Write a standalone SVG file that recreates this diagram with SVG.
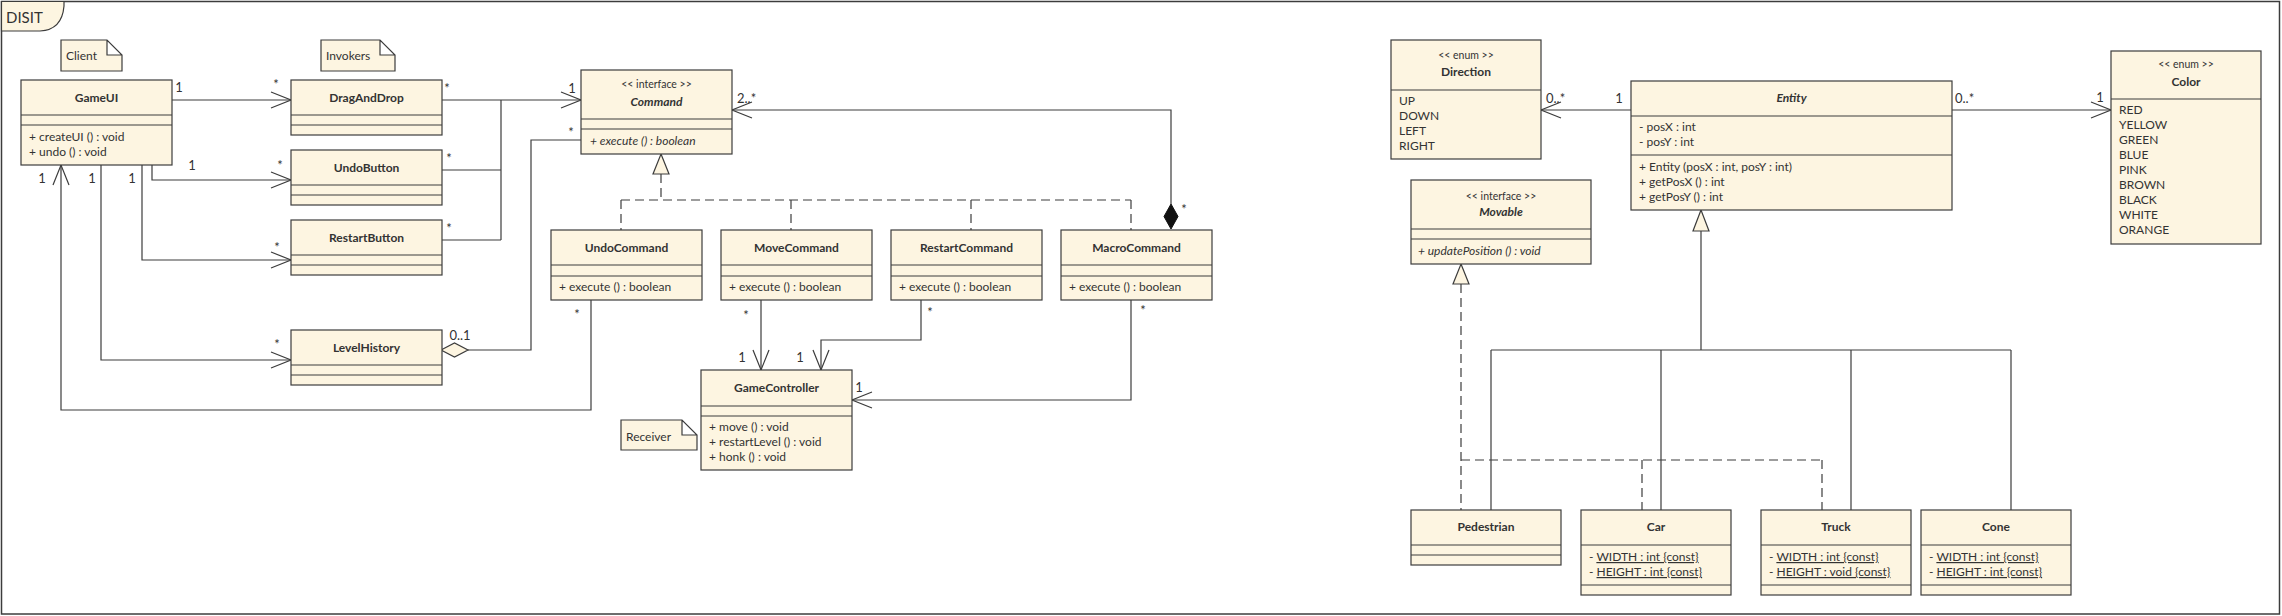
<svg xmlns="http://www.w3.org/2000/svg" width="2282" height="616" viewBox="0 0 2282 616">
<style>
.box{fill:#fdf5e1;stroke:#3c3c3c;stroke-width:1.2}
.ln{fill:none;stroke:#3c3c3c;stroke-width:1.2}
.dash{fill:none;stroke:#3c3c3c;stroke-width:1.2;stroke-dasharray:9,5}
text{font-family:Lato,"Open Sans","Noto Sans",sans-serif;fill:#333;font-size:12px}
.nm{font-weight:bold;font-size:12px;text-anchor:middle}
.ab{font-style:italic;font-weight:bold;font-size:12px;text-anchor:middle}
.st{font-size:10.5px;text-anchor:middle}
.it{font-style:italic}
.m{font-size:13px;text-anchor:middle}
.ms{font-size:13px}
.tri{fill:#fdf5e1;stroke:#3c3c3c;stroke-width:1.2}
</style>
<defs>
<marker id="open" markerUnits="userSpaceOnUse" markerWidth="24" markerHeight="20" refX="21" refY="9" orient="auto" viewBox="0 0 24 20">
<path d="M1,1 L21,9 L1,17" fill="none" stroke="#3c3c3c" stroke-width="1.2"/>
</marker>
</defs>

<!-- frame -->
<g id="frame">
<rect x="1.5" y="1.5" width="2278" height="612.5" fill="#fff" stroke="#3c3c3c" stroke-width="1.5"/>
<path d="M1.5,1.5 H64 V6 Q62,30 40,31 H1.5 Z" fill="#fdf5e1" stroke="#3c3c3c" stroke-width="1.2"/>
<text x="6" y="23" style="font-size:15px">DISIT</text>
</g>

<!-- connectors -->
<g id="connectors">
<path class="ln" d="M172,100 H291" marker-end="url(#open)"/>
<path class="ln" d="M152,165 V180 H291" marker-end="url(#open)"/>
<path class="ln" d="M142,165 V260 H291" marker-end="url(#open)"/>
<path class="ln" d="M101,165 V360 H291" marker-end="url(#open)"/>
<path class="ln" d="M591,300 V410 H61 V165" marker-end="url(#open)"/>
<path class="ln" d="M442,100 H581" marker-end="url(#open)"/>
<path class="ln" d="M442,170 H501 M442,240 H501 M501,100 V240"/>
<path class="ln" d="M468,350 H531 V140 H581"/>
<polygon class="tri" points="441,350 454.5,343 468,350 454.5,357"/>
<path class="ln" d="M1171,204 V110 H732" marker-end="url(#open)"/>
<polygon points="1171,204 1178,216.5 1171,229 1164,216.5" fill="#111" stroke="#111"/>
<path class="dash" d="M661,174 V200 M621,200 H1131 M621,200 V230 M791,200 V230 M971,200 V230 M1131,200 V230"/>
<polygon class="tri" points="661,154 669,174 653,174"/>
<path class="ln" d="M761,300 V370" marker-end="url(#open)"/>
<path class="ln" d="M921,300 V340 H821 V370" marker-end="url(#open)"/>
<path class="ln" d="M1131,300 V400 H852" marker-end="url(#open)"/>
<path class="ln" d="M1631,110 H1541" marker-end="url(#open)"/>
<path class="ln" d="M1952,110 H2111" marker-end="url(#open)"/>
<path class="ln" d="M1701,231 V350 M1491,350 H2011 M1491,350 V510 M1661,350 V510 M1851,350 V510 M2011,350 V510"/>
<polygon class="tri" points="1701,210 1709,231 1693,231"/>
<path class="dash" d="M1461,284 V510 M1461,460 H1822 M1642,460 V510 M1822,460 V510"/>
<polygon class="tri" points="1461,264 1469,284 1453,284"/>
<!-- multiplicities -->
<text class="m" x="179" y="92">1</text>
<text class="m" x="276" y="89">*</text>
<text class="m" x="192" y="170">1</text>
<text class="m" x="280" y="170">*</text>
<text class="m" x="132" y="183">1</text>
<text class="m" x="277" y="252">*</text>
<text class="m" x="92" y="183">1</text>
<text class="m" x="277" y="349">*</text>
<text class="m" x="42" y="183">1</text>
<text class="m" x="577" y="319">*</text>
<text class="m" x="447" y="93">*</text>
<text class="m" x="572" y="93">1</text>
<text class="m" x="449" y="163">*</text>
<text class="m" x="449" y="233">*</text>
<text class="m" x="460" y="340">0..1</text>
<text class="m" x="571" y="137">*</text>
<text class="ms" x="737" y="103">2..*</text>
<text class="m" x="1184" y="214">*</text>
<text class="m" x="746" y="320">*</text>
<text class="m" x="742" y="362">1</text>
<text class="m" x="930" y="317">*</text>
<text class="m" x="800" y="362">1</text>
<text class="m" x="1143" y="315">*</text>
<text class="m" x="859" y="392">1</text>
<text class="ms" x="1546" y="103">0..*</text>
<text class="m" x="1619" y="103">1</text>
<text class="ms" x="1955" y="103">0..*</text>
<text class="m" x="2100" y="102">1</text>
</g>

<!-- notes -->
<g id="note-client">
<path class="box" d="M61,40 H107 L122,55 V71 H61 Z M107,40 V55 H122"/>
<text x="66" y="60">Client</text>
</g>
<g id="note-invokers">
<path class="box" d="M321,40 H380 L395,55 V71 H321 Z M380,40 V55 H395"/>
<text x="326" y="60">Invokers</text>
</g>
<g id="note-receiver">
<path class="box" d="M621,420 H682 L697,435 V450 H621 Z M682,420 V435 H697"/>
<text x="626" y="441">Receiver</text>
</g>

<!-- classes -->
<g id="GameUI">
<rect class="box" x="21" y="80" width="151" height="85"/>
<path class="ln" d="M21,115 H172 M21,125 H172"/>
<text class="nm" x="96.5" y="102">GameUI</text>
<text x="29" y="141">+ createUI () : void</text>
<text x="29" y="156">+ undo () : void</text>
</g>
<g id="DragAndDrop">
<rect class="box" x="291" y="80" width="151" height="55"/>
<path class="ln" d="M291,115 H442 M291,125 H442"/>
<text class="nm" x="366.5" y="102">DragAndDrop</text>
</g>
<g id="UndoButton">
<rect class="box" x="291" y="150" width="151" height="55"/>
<path class="ln" d="M291,185 H442 M291,195 H442"/>
<text class="nm" x="366.5" y="172">UndoButton</text>
</g>
<g id="RestartButton">
<rect class="box" x="291" y="220" width="151" height="55"/>
<path class="ln" d="M291,255 H442 M291,265 H442"/>
<text class="nm" x="366.5" y="242">RestartButton</text>
</g>
<g id="LevelHistory">
<rect class="box" x="291" y="330" width="151" height="55"/>
<path class="ln" d="M291,365 H442 M291,375 H442"/>
<text class="nm" x="366.5" y="352">LevelHistory</text>
</g>
<g id="Command">
<rect class="box" x="581" y="70" width="151" height="84"/>
<path class="ln" d="M581,119 H732 M581,129 H732"/>
<text class="st" x="656.5" y="88">&lt;&lt; interface &gt;&gt;</text>
<text class="ab" x="656.5" y="106">Command</text>
<text class="it" x="590" y="145">+ execute () : boolean</text>
</g>
<g id="UndoCommand">
<rect class="box" x="551" y="230" width="151" height="70"/>
<path class="ln" d="M551,265 H702 M551,276 H702"/>
<text class="nm" x="626.5" y="252">UndoCommand</text>
<text x="559" y="291">+ execute () : boolean</text>
</g>
<g id="MoveCommand">
<rect class="box" x="721" y="230" width="151" height="70"/>
<path class="ln" d="M721,265 H872 M721,276 H872"/>
<text class="nm" x="796.5" y="252">MoveCommand</text>
<text x="729" y="291">+ execute () : boolean</text>
</g>
<g id="RestartCommand">
<rect class="box" x="891" y="230" width="151" height="70"/>
<path class="ln" d="M891,265 H1042 M891,276 H1042"/>
<text class="nm" x="966.5" y="252">RestartCommand</text>
<text x="899" y="291">+ execute () : boolean</text>
</g>
<g id="MacroCommand">
<rect class="box" x="1061" y="230" width="151" height="70"/>
<path class="ln" d="M1061,265 H1212 M1061,276 H1212"/>
<text class="nm" x="1136.5" y="252">MacroCommand</text>
<text x="1069" y="291">+ execute () : boolean</text>
</g>
<g id="GameController">
<rect class="box" x="701" y="370" width="151" height="100"/>
<path class="ln" d="M701,406 H852 M701,416 H852"/>
<text class="nm" x="776.5" y="392">GameController</text>
<text x="709" y="431">+ move () : void</text>
<text x="709" y="446">+ restartLevel () : void</text>
<text x="709" y="461">+ honk () : void</text>
</g>
<g id="Direction">
<rect class="box" x="1391" y="40" width="150" height="119"/>
<path class="ln" d="M1391,90 H1541"/>
<text class="st" x="1466" y="59">&lt;&lt; enum &gt;&gt;</text>
<text class="nm" x="1466" y="76">Direction</text>
<text x="1399" y="105">UP</text>
<text x="1399" y="120">DOWN</text>
<text x="1399" y="135">LEFT</text>
<text x="1399" y="150">RIGHT</text>
</g>
<g id="Entity">
<rect class="box" x="1631" y="81" width="321" height="129"/>
<path class="ln" d="M1631,116 H1952 M1631,155 H1952"/>
<text class="ab" x="1791.5" y="102">Entity</text>
<text x="1639" y="131">- posX : int</text>
<text x="1639" y="146">- posY : int</text>
<text x="1639" y="171">+ Entity (posX : int, posY : int)</text>
<text x="1639" y="186">+ getPosX () : int</text>
<text x="1639" y="201">+ getPosY () : int</text>
</g>
<g id="Movable">
<rect class="box" x="1411" y="180" width="180" height="84"/>
<path class="ln" d="M1411,229 H1591 M1411,239 H1591"/>
<text class="st" x="1501" y="200">&lt;&lt; interface &gt;&gt;</text>
<text class="ab" x="1501" y="216">Movable</text>
<text class="it" x="1418" y="255">+ updatePosition () : void</text>
</g>
<g id="Color">
<rect class="box" x="2111" y="51" width="150" height="193"/>
<path class="ln" d="M2111,99 H2261"/>
<text class="st" x="2186" y="68">&lt;&lt; enum &gt;&gt;</text>
<text class="nm" x="2186" y="86">Color</text>
<text x="2119" y="114">RED</text>
<text x="2119" y="129">YELLOW</text>
<text x="2119" y="144">GREEN</text>
<text x="2119" y="159">BLUE</text>
<text x="2119" y="174">PINK</text>
<text x="2119" y="189">BROWN</text>
<text x="2119" y="204">BLACK</text>
<text x="2119" y="219">WHITE</text>
<text x="2119" y="234">ORANGE</text>
</g>
<g id="Pedestrian">
<rect class="box" x="1411" y="510" width="150" height="55"/>
<path class="ln" d="M1411,545 H1561 M1411,555 H1561"/>
<text class="nm" x="1486" y="531">Pedestrian</text>
</g>
<g id="Car">
<rect class="box" x="1581" y="510" width="150" height="85"/>
<path class="ln" d="M1581,545 H1731 M1581,585 H1731"/>
<text class="nm" x="1656" y="531">Car</text>
<text x="1589" y="561">- <tspan text-decoration="underline">WIDTH : int {const}</tspan></text>
<text x="1589" y="576">- <tspan text-decoration="underline">HEIGHT : int {const}</tspan></text>
</g>
<g id="Truck">
<rect class="box" x="1761" y="510" width="150" height="85"/>
<path class="ln" d="M1761,545 H1911 M1761,585 H1911"/>
<text class="nm" x="1836" y="531">Truck</text>
<text x="1769" y="561">- <tspan text-decoration="underline">WIDTH : int {const}</tspan></text>
<text x="1769" y="576">- <tspan text-decoration="underline">HEIGHT : void {const}</tspan></text>
</g>
<g id="Cone">
<rect class="box" x="1921" y="510" width="150" height="85"/>
<path class="ln" d="M1921,545 H2071 M1921,585 H2071"/>
<text class="nm" x="1996" y="531">Cone</text>
<text x="1929" y="561">- <tspan text-decoration="underline">WIDTH : int {const}</tspan></text>
<text x="1929" y="576">- <tspan text-decoration="underline">HEIGHT : int {const}</tspan></text>
</g>
</svg>
